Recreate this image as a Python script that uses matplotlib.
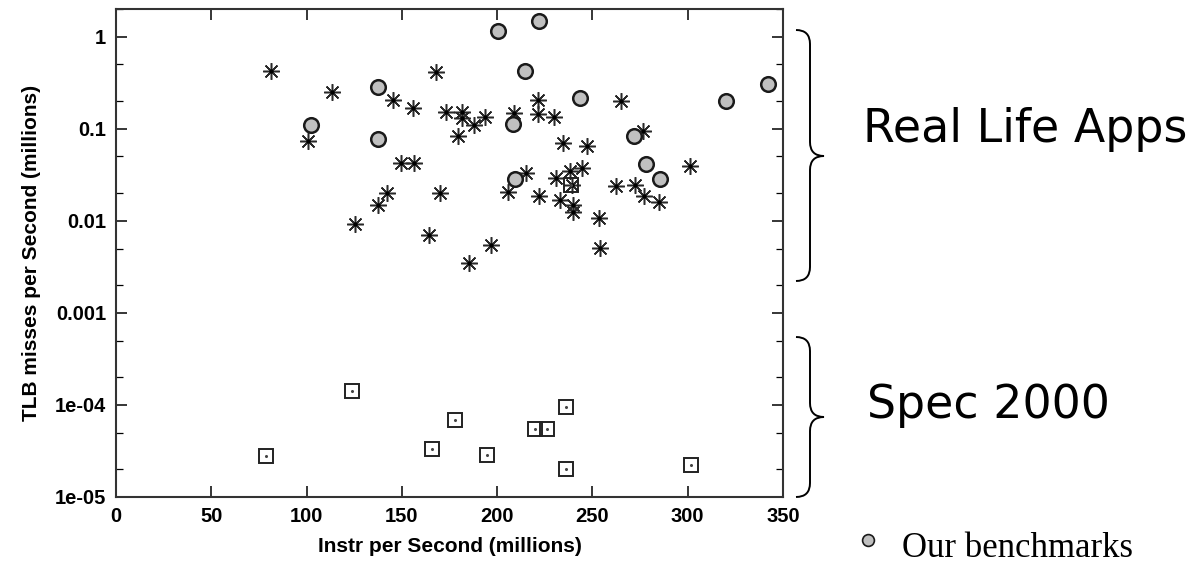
import matplotlib
matplotlib.use("Agg")
import matplotlib.pyplot as plt
from matplotlib.path import Path
from matplotlib.patches import PathPatch
from matplotlib.ticker import LogLocator, FixedLocator, NullFormatter

# ---------------- data ----------------
bench_x = [102.3, 137.5, 137.5, 200.6, 222.1, 214.6, 208.1, 243.4, 209.3, 271.8, 277.9, 285.7, 320.0, 342.2]
bench_y = [0.110, 0.286, 0.078, 1.16, 1.50, 0.42, 0.112, 0.216, 0.0284, 0.0825, 0.0413, 0.0284, 0.20, 0.306]

apps_x = [81.3, 113.2, 100.9, 125.4, 137.3, 142.0, 145.2, 167.9, 155.7, 173.1, 181.4, 181.4,
          193.6, 188.0, 179.6, 149.4, 156.5, 170.0, 164.4, 185.4, 196.6, 208.8, 221.6, 221.6,
          229.8, 234.4, 247.0, 264.8, 276.7, 301.2, 215.0, 205.5, 222.1, 230.8, 238.2, 244.3,
          232.9, 239.6, 253.6, 253.9, 262.3, 272.6, 277.2, 285.0, 239.1, 239.6]
apps_y = [0.427, 0.248, 0.0728, 0.00927, 0.0149, 0.0203, 0.207, 0.409, 0.168, 0.152, 0.154, 0.131,
          0.134, 0.110, 0.0839, 0.0424, 0.0424, 0.0203, 0.00705, 0.00347, 0.00548, 0.148, 0.207, 0.146,
          0.134, 0.070, 0.0658, 0.198, 0.0935, 0.0399, 0.033, 0.0208, 0.0187, 0.0291, 0.0344, 0.0374,
          0.0169, 0.0126, 0.0107, 0.00505, 0.0236, 0.0246, 0.0184, 0.0162, 0.0246, 0.0150]

spec_x = [78.5, 123.7, 166.0, 177.9, 194.8, 219.8, 226.3, 236.1, 236.1, 301.5, 238.7]
spec_y = [2.81e-5, 1.43e-4, 3.33e-5, 6.87e-5, 2.86e-5, 5.48e-5, 5.48e-5, 9.6e-5, 2.0e-5, 2.23e-5, 0.0246]

x_ticks = [0, 50, 100, 150, 200, 250, 300, 350]
y_ticks = [1e-5, 1e-4, 1e-3, 1e-2, 1e-1, 1]
y_ticklabels = ["1e-05", "1e-04", "0.001", "0.01", "0.1", "1"]

x_label = "Instr per Second (millions)"
y_label = "TLB misses per Second (millions)"
group_labels = ["Real Life Apps", "Spec 2000"]
legend_label = "Our benchmarks"

# ---------------- figure ----------------
W, H = 1199, 565
fig = plt.figure(figsize=(W / 100, H / 100), dpi=100)
fig.patch.set_facecolor("white")

def fx(px):
    return px / W

def fy(py):
    return 1 - py / H

ax = fig.add_axes([fx(116), fy(497), fx(783) - fx(116), fy(9) - fy(497)])
ax.set_yscale("log")
ax.set_xlim(0, 350)
ax.set_ylim(1e-5, 2.0)

# markers
ax.plot(apps_x, apps_y, linestyle="none", marker=(8, 2, 0), markersize=12,
        markeredgecolor="#2a2a2a", markeredgewidth=1.1, zorder=3)
ax.plot(apps_x, apps_y, linestyle="none", marker="o", markersize=2,
        color="black", zorder=4)
ax.plot(spec_x, spec_y, linestyle="none", marker="s", markersize=10.5,
        markerfacecolor="none", markeredgecolor="#222222", markeredgewidth=1.4, zorder=3)
ax.plot(spec_x, spec_y, linestyle="none", marker="o", markersize=1.2,
        color="#444444", zorder=4)
ax.plot(bench_x, bench_y, linestyle="none", marker="o", markersize=10.5,
        markerfacecolor="#c0c0c0", markeredgecolor="#1a1a1a", markeredgewidth=1.8, zorder=5)

# ticks
ax.xaxis.set_major_locator(FixedLocator(x_ticks))
ax.set_xticklabels([str(v) for v in x_ticks])
ax.yaxis.set_major_locator(FixedLocator(y_ticks))
ax.set_yticklabels(y_ticklabels)
ax.yaxis.set_minor_locator(LogLocator(base=10, subs=(2.0, 5.0)))
ax.yaxis.set_minor_formatter(NullFormatter())
ax.tick_params(axis="both", which="major", direction="in", length=8, width=1.1,
               top=True, right=True, labelsize=14.5, pad=7, colors="black")
ax.tick_params(axis="both", which="minor", direction="in", length=5, width=0.9,
               top=True, right=True)
for lab in ax.get_xticklabels() + ax.get_yticklabels():
    lab.set_fontfamily("Liberation Sans")
    lab.set_fontweight("bold")

for sp in ax.spines.values():
    sp.set_color("#333333")
    sp.set_linewidth(1.5)

ax.set_xlabel(x_label, fontsize=15, fontweight="bold", family="Liberation Sans", labelpad=8)
ax.set_ylabel(y_label, fontsize=15, fontweight="bold", family="Liberation Sans", labelpad=10)

# braces
def brace(x0, xm, xt, yt, ym, yb, r=14):
    verts = [
        (x0, yt), (xm, yt), (xm, yt + r),
        (xm, ym - r), (xm, ym), (xt, ym),
        (xm, ym), (xm, ym + r),
        (xm, yb - r), (xm, yb), (x0, yb),
    ]
    codes = [Path.MOVETO, Path.CURVE3, Path.CURVE3,
             Path.LINETO, Path.CURVE3, Path.CURVE3,
             Path.CURVE3, Path.CURVE3,
             Path.LINETO, Path.CURVE3, Path.CURVE3]
    verts = [(fx(a), fy(b)) for a, b in verts]
    p = PathPatch(Path(verts, codes), facecolor="none", edgecolor="black",
                  linewidth=1.4, transform=fig.transFigure)
    fig.patches.append(p)

brace(796, 810, 824, 30, 156, 281)
brace(796, 810, 824, 337, 417, 497)

fig.text(fx(863), fy(142), group_labels[0], fontsize=33, family="DejaVu Sans",
         ha="left", va="baseline")
fig.text(fx(867), fy(418), group_labels[1], fontsize=33, family="DejaVu Sans",
         ha="left", va="baseline")

# legend-like note
fig.lines.append(plt.Line2D([fx(868)], [fy(540)], transform=fig.transFigure,
                            marker="o", markersize=8.5, markerfacecolor="#c0c0c0",
                            markeredgecolor="#1a1a1a", markeredgewidth=1.2, linestyle="none"))
fig.text(fx(902), fy(557), legend_label, fontsize=25, family="Liberation Serif",
         ha="left", va="baseline")

fig.savefig("out.png", dpi=100, facecolor="white")
